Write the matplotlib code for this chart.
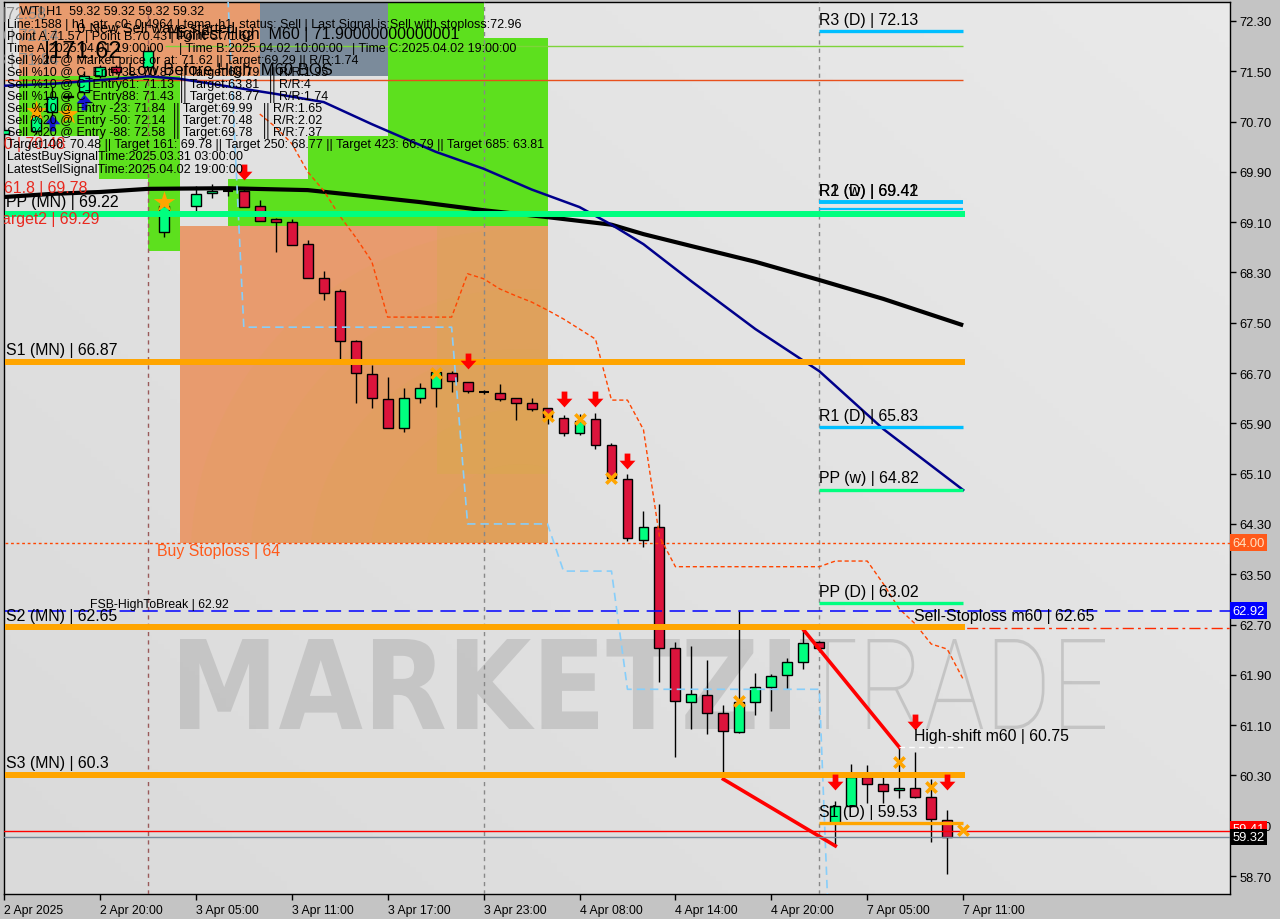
import numpy as np
import matplotlib
matplotlib.use("Agg")
import matplotlib.pyplot as plt
import matplotlib.transforms as mtransforms
from matplotlib.patches import Rectangle, Ellipse, PathPatch
from matplotlib.path import Path
from matplotlib.textpath import TextPath
from matplotlib.font_manager import FontProperties

plt.rcParams['font.family'] = ['Liberation Sans', 'DejaVu Sans']

nan = np.nan

# ---- H1 candles, one slot per bar on the chart grid (nan = no visible bar) ----
opens = [70.51, nan, 70.55, 70.85, 71.09, 71.17, 71.43, 71.57, nan, 71.57,
         68.94, nan, 69.36, 69.56, 69.60, 69.60, 69.35, 69.15, 69.11, 68.75,
         68.21, 68.00, 67.21, 66.69, 66.29, 65.82, 66.30, 66.47, 66.70, 66.55,
         66.40, 66.38, 66.30, 66.22, 66.14, 65.98, 65.74, 65.97, 65.56, 65.02,
         64.05, 64.25, 62.32, 61.46, 61.58, 61.30, 60.99, 61.46, 61.70, 61.89,
         62.10, 62.42, 59.55, 59.82, 60.27, 60.17, 60.07, 60.10, 59.95, 59.59]
highs = [70.62, nan, 70.88, 71.25, 71.14, 71.50, 71.60, 71.60, nan, 71.90,
         69.47, nan, 69.68, 69.71, 69.62, 69.64, 69.46, 69.16, 69.15, 68.81,
         68.33, 68.04, 67.22, 66.83, 66.63, 66.46, 66.54, 66.74, 66.74, 66.56,
         66.43, 66.53, 66.31, 66.30, 66.15, 66.03, 66.05, 66.06, 65.59, 65.09,
         64.50, 64.62, 62.43, 62.36, 62.13, 61.42, 62.91, 61.93, 61.91, 62.17,
         62.62, 62.44, 59.90, 60.48, 60.46, 60.35, 60.75, 60.67, 60.24, 59.75]
lows = [70.45, nan, 70.50, 70.74, 71.05, 71.12, 71.40, 71.45, nan, 71.52,
        68.86, nan, 69.26, 69.48, 69.52, 69.34, 69.12, 68.63, 68.74, 68.21,
        67.87, 66.92, 66.23, 66.14, 65.82, 65.76, 66.23, 66.16, 66.40, 66.38,
        66.37, 66.25, 65.95, 66.09, 65.89, 65.70, 65.71, 65.50, 65.03, 64.03,
        63.93, 61.79, 60.59, 61.04, 60.96, 60.24, 60.98, 61.26, 61.33, 61.68,
        61.99, 62.30, 59.18, 59.80, 59.86, 59.86, 59.94, 59.94, 59.24, 58.73]
closes = [70.56, nan, 70.79, 71.09, 71.11, 71.42, 71.57, 71.49, nan, 71.82,
          69.36, nan, 69.55, 69.60, 69.60, 69.34, 69.12, 69.10, 68.74, 68.21,
          67.98, 67.21, 66.70, 66.30, 65.82, 66.30, 66.46, 66.71, 66.57, 66.41,
          66.40, 66.28, 66.22, 66.13, 66.00, 65.74, 65.94, 65.55, 65.03, 64.07,
          64.25, 62.32, 61.48, 61.60, 61.30, 61.01, 61.46, 61.70, 61.88, 62.11,
          62.41, 62.32, 59.82, 60.27, 60.16, 60.06, 60.10, 59.95, 59.61, 59.32]

# moving averages (slot, value)
ma_black_slots = [0, 3, 6, 9, 14, 19, 22, 26, 30, 34, 38, 40, 43, 47, 51, 55, 60]
ma_black_vals = [69.50, 69.55, 69.58, 69.63, 69.64, 69.61, 69.53, 69.42, 69.29,
                 69.18, 69.06, 68.91, 68.72, 68.47, 68.18, 67.88, 67.46]
ma_navy_slots = [0, 3, 6, 9, 11, 14, 17, 20, 23, 27, 30, 33, 36, 38, 40, 43, 47, 51, 55, 60]
ma_navy_vals = [71.27, 71.30, 71.36, 71.42, 71.38, 71.26, 71.14, 71.01, 70.66, 70.22,
                69.95, 69.62, 69.34, 69.06, 68.75, 68.16, 67.40, 66.73, 65.81, 64.84]

# trailing stop (orange-red dotted) and light-blue stop line
trail_slots = list(range(16, 61))
trail_vals = [70.82, 70.61, 70.35, 69.90, 69.60, 69.20, 68.86, 68.48, 67.59, 67.59,
              67.59, 67.59, 67.59, 68.28, 68.20, 68.04, 67.93, 67.83, 67.70, 67.56,
              67.40, 67.24, 66.27, 66.27, 65.80, 64.10, 63.62, 63.62, 63.62, 63.62,
              63.62, 63.62, 63.62, 63.62, 63.62, 63.62, 63.71, 63.71, 63.71, 63.35,
              62.95, 62.71, 62.39, 62.31, 61.83]
lb_slots = list(range(14, 53))
lb_vals = [72.70] + [67.43] * 14 + [64.30] * 6 + [63.55] * 4 + [61.67] * 13 + [55.20]

# monthly pivots (full width) and daily / weekly pivots (last day)
mn_names = ["PP (MN) | 69.22", "S1 (MN) | 66.87", "S2 (MN) | 62.65", "S3 (MN) | 60.3"]
mn_vals = [69.23, 66.88, 62.66, 60.31]
d_names = ["R3 (D) | 72.13", "R1 (D) | 65.83", "PP (w) | 64.82", "PP (D) | 63.02", "S1 (D) | 59.53"]
d_vals = [72.14, 65.84, 64.84, 63.04, 59.54]
d_colors = ['#00bfff', '#00bfff', '#00ff7f', '#00ff7f', '#ffa500']
r2_vals = [69.42, 69.31]

# zones: (left slot, right slot, low, high)
zones = [(0.94, 16.0, 71.43, 72.9), (16.0, 24.0, 71.43, 72.9),
         (0.94, 11.0, 70.47, 71.43), (5.94, 11.0, 69.79, 70.47), (9.0, 11.0, 68.64, 69.79),
         (24.0, 30.0, 69.04, 72.9), (30.0, 34.0, 69.04, 72.03), (19.0, 24.0, 69.04, 70.47),
         (14.0, 19.0, 69.04, 69.79), (11.0, 14.0, 68.64, 69.04), (11.0, 34.0, 64.00, 69.04)]
zone_colors = ['#e89b6e', '#7b8b9b', '#5de01e', '#5de01e', '#5de01e', '#5de01e', '#5de01e',
               '#5de01e', '#5de01e', '#7b8b9b', '#e89b6e']

# signals
sell_arrow_slots = [15, 29, 35, 37, 39, 52, 57, 59]
sell_arrow_vals = [69.90, 66.89, 66.29, 66.29, 65.30, 60.20, 61.15, 60.20]
buy_arrow_slots = [3, 5]
buy_arrow_vals = [70.68, 71.01]
cross_slots = [27, 34, 36, 38, 46, 56, 58, 60]
cross_vals = [66.70, 66.02, 65.97, 65.03, 61.48, 60.51, 60.12, 59.43]
star_slots = [2, 4, 10]
star_vals = [70.87, 70.82, 69.42]

tick_slots = [0, 6, 12, 18, 24, 30, 36, 42, 48, 54, 60]
tick_labels = ["2 Apr 2025", "2 Apr 20:00", "3 Apr 05:00", "3 Apr 11:00", "3 Apr 17:00",
               "3 Apr 23:00", "4 Apr 08:00", "4 Apr 14:00", "4 Apr 20:00", "7 Apr 05:00",
               "7 Apr 11:00"]
price_ticks = [58.70, 59.50, 60.30, 61.10, 61.90, 62.70, 63.50, 64.30, 65.10, 65.90,
               66.70, 67.50, 68.30, 69.10, 69.90, 70.70, 71.50, 72.30]

W, H = 1280, 920
fig = plt.figure(figsize=(12.8, 9.2), dpi=100)
fig.patch.set_facecolor('#c4c4c4')
ax = fig.add_axes([4 / W, 25 / H, 1226 / W, 892 / H])
XLO, XHI = 0.0625, 76.69
YLO, YHI = 58.414, 72.602


def ptext(x, y, s, **kw):
    kw.setdefault('va', 'center')
    kw.setdefault('ha', 'left')
    kw.setdefault('zorder', 9)
    ax.text(x / W, 1 - y / H, s, transform=fig.transFigure, clip_on=True, **kw)


def lab(s, slot, level, dy, **kw):
    kw.setdefault('fontsize', 11.4)
    kw.setdefault('color', 'black')
    ax.annotate(s, (slot, level), xytext=(0, dy), textcoords='offset pixels',
                va='center', ha='left', zorder=9, annotation_clip=False, **kw)


def fit_text(s, box, fp, color, alpha):
    tp = TextPath((0, 0), s, size=100, prop=fp)
    bb = tp.get_extents()
    x0, y0, x1, y1 = box
    tr = (mtransforms.Affine2D().translate(-bb.x0, -bb.y0)
          .scale((x1 - x0) / bb.width, (y1 - y0) / bb.height)
          .translate(x0, H - y1))
    ax.add_patch(PathPatch(tp, transform=tr, fc=color, ec='none', alpha=alpha, zorder=2))


# background gradient
g = np.linspace(0, 1, 200)
GX, GY = np.meshgrid(g, g)
t = 0.55 * GX + 0.45 * GY
img = 0.855 + (0.915 - 0.855) * t
ax.imshow(np.dstack([img, img, img]), extent=[XLO, XHI, YLO, YHI], origin='lower',
          aspect='auto', zorder=0)

# zones
zone_patches = []
for (x0, x1, lo, hi), col in zip(zones, zone_colors):
    r = Rectangle((x0, lo), x1 - x0, hi - lo, fc=col, ec='none', zorder=1)
    ax.add_patch(r)
    zone_patches.append(r)
ax.add_patch(Rectangle((27.06, 65.10), 34.0 - 27.06, 69.04 - 65.10, fc='#d6a850',
                       ec='none', alpha=0.35, zorder=1.2))
main_zone = zone_patches[-1]
for rad in [330, 270, 210, 150, 95]:
    e = Ellipse((32.3, 63.74), 2 * rad / 16, 2 * rad / 62.87, fc='#d8b040', ec='none',
                alpha=0.09, zorder=1.5)
    ax.add_patch(e)
    e.set_clip_path(main_zone)

# watermark
fit_text("MARKETZI", (180, 640, 790, 730), FontProperties(family='DejaVu Sans', weight='bold'),
         '#a8a8a8', 0.45)
fit_text("TRADE", (800, 640, 1105, 730), FontProperties(family='Roboto', weight='light'),
         '#a8a8a8', 0.5)

# separators
for s, col in zip([9, 30, 51], ['#9a5a5a', '#888888', '#888888']):
    ax.axvline(s, color=col, lw=1, ls=(0, (3, 3)), zorder=3)

# thin lines in the header area
ax.hlines(71.90, 10.1, 60.0, color='#7ed43a', lw=1, zorder=3)
ax.hlines(71.36, XLO, 60.0, color='#e8501c', lw=1, zorder=3)

# candles
o, h, l, c = map(np.array, (opens, highs, lows, closes))
slots = np.arange(len(o))
ok = ~np.isnan(o)
ax.vlines(slots[ok], l[ok], h[ok], color='black', lw=1, zorder=4)
bull = ok & (c > o)
bear = ok & (c < o)
doji = ok & (c == o)
ax.bar(slots[bull], c[bull] - o[bull], bottom=o[bull], width=0.62, color='#00ff7f',
       edgecolor='black', lw=1, zorder=4.2)
ax.bar(slots[bear], o[bear] - c[bear], bottom=c[bear], width=0.62, color='#dc143c',
       edgecolor='black', lw=1, zorder=4.2)
ax.hlines(o[doji], slots[doji] - 0.31, slots[doji] + 0.31, color='black', lw=1.5, zorder=4.2)

# moving averages
ax.plot(ma_black_slots, ma_black_vals, color='black', lw=3, zorder=5, solid_capstyle='butt')
ax.plot(ma_navy_slots, ma_navy_vals, color='#00008b', lw=1.8, zorder=5)

# stop lines
ax.plot(trail_slots, trail_vals, color='#ff4500', lw=1, ls=(0, (3, 2)), zorder=5)
ax.plot(lb_slots, lb_vals, color='#87cefa', lw=1.2, ls=(0, (5, 3)), zorder=5)

# zigzag
ax.plot([45, 52], [l[45], l[52]], color='#ff0000', lw=2.6, zorder=5.5)
ax.plot([50, 56], [h[50], h[56]], color='#ff0000', lw=2.6, zorder=5.5)
ax.hlines(h[56], 56, 60, color='white', lw=1, ls=(0, (4, 3)), zorder=5.5)

# level lines
ax.hlines(64.00, XLO, XHI, color='#ff4500', lw=1, ls=(0, (2, 2)), zorder=5.6)
ax.hlines(62.92, XLO, XHI, color='#0000ff', lw=1.1, ls=(0, (10, 5)), zorder=5.6)
ax.hlines(62.65, 56.06, XHI, color='#ff2a00', lw=1, ls=(0, (8, 3, 2, 3)), zorder=5.6)
ax.axhline(59.41, color='#ff0000', lw=1, zorder=5.6)
ax.axhline(59.32, color='#778899', lw=1, zorder=5.6)
for v, col in zip(mn_vals, ['#00ff7f', '#ffa500', '#ffa500', '#ffa500']):
    ax.hlines(v, XLO, 60.1, color=col, lw=4.3, zorder=6)
for v, col in zip(d_vals, d_colors):
    ax.hlines(v, 51.0, 60.0, color=col, lw=2.4, zorder=6)
ax.hlines(r2_vals[0], 51.0, 60.0, color='#00bfff', lw=2.8, zorder=6)
ax.hlines(r2_vals[1], 51.0, 60.0, color='#00bfff', lw=1.6, zorder=6)

# markers
arrow = Path([(-0.18, 0.5), (0.18, 0.5), (0.18, 0.05), (0.5, 0.05), (0, -0.5),
              (-0.5, 0.05), (-0.18, 0.05), (-0.18, 0.5)])
arrow_up = Path([(x, -y) for x, y in arrow.vertices])
ax.scatter(sell_arrow_slots, sell_arrow_vals, marker=arrow, s=130, color='#ff0000',
           linewidths=0, zorder=7)
ax.scatter(buy_arrow_slots, buy_arrow_vals, marker=arrow_up, s=130, color='#1414d0',
           linewidths=0, zorder=7)
ax.scatter(cross_slots, cross_vals, marker='x', s=55, color='#ffa500', linewidths=2.6, zorder=7)
ax.scatter(star_slots, star_vals, marker='*', s=260, color='#ffa500', linewidths=0, zorder=7)

# labels on levels
for name, v in zip(mn_names, mn_vals):
    lab(name, 0.125, v, 12)
for name, v in zip(d_names, d_vals):
    lab(name, 51.0, v, 12)
lab("R2 (D) | 69.41", 51.0, r2_vals[0], 12)
lab("R1 (w) | 69.42", 51.0, r2_vals[0], 12)
lab("Buy Stoploss | 64", 9.6, 64.00, -8, color='#ff5a1a')
lab("FSB-HighToBreak | 62.92", 5.4, 62.92, 7, fontsize=8.8)
lab("Sell-Stoploss m60 | 62.65", 56.9, 62.65, 12)
lab("High-shift m60 | 60.75", 56.9, h[56], 12)

# header texts
ptext(3, 14, "|72.58", fontsize=11.5, color='#8c8c8c')
ptext(-12, 37, "50 | 72.14", fontsize=11.5, color='#8c8c8c')
ptext(-12, 60, "23 | 71.84", fontsize=11.5, color='#8c8c8c')
ptext(-14, 145, "100 | 70.48", fontsize=11.4, color='#e8281e')
ptext(4, 188, "61.8 | 69.78", fontsize=11.4, color='#e8281e')
ptext(-6, 220, "Target2 | 69.29", fontsize=11.4, color='#e8281e')
ptext(77, 29, "0 New Sell wave started", fontsize=10.5, color='black')
ptext(168, 35, "Highest High  M60 | 71.90000000000001", fontsize=11.5, color='black')
ptext(44, 52, "|171.62", fontsize=17, color='black')
ptext(128, 70, "Low Before High  M60 BOS", fontsize=12, color='black')

fs = 9.0
ptext(20, 12, "WTI,H1  59.32 59.32 59.32 59.32", fontsize=fs)
ptext(7, 25, "Line:1588 | h1_atr_c0: 0.4964 | tema_h1  status: Sell | Last Signal is:Sell with stoploss:72.96", fontsize=fs)
ptext(7, 37, "Point A:71.57 | Point B:70.43 | Point C:71.62", fontsize=fs)
ptext(7, 49, "Time A:2025.04.01 19:00:00", fontsize=fs)
ptext(179, 49, "| Time B:2025.04.02 10:00:00", fontsize=fs)
ptext(352, 49, "| Time C:2025.04.02 19:00:00", fontsize=fs)
ptext(7, 61, "Sell %20 @ Market price or at: 71.62 || Target:69.29 || R/R:1.74", fontsize=fs)
rows = [("Sell %10 @ C_Entry38: 70.87", "|| Target:68.79", "|| R/R:1.95", 180, 269),
        ("Sell %10 @ C_Entry61: 71.13", "|| Target:63.81", "|| R/R:4", 180, 269),
        ("Sell %10 @ C_Entry88: 71.43", "|| Target:68.77", "|| R/R:1.74", 180, 269),
        ("Sell %10 @ Entry -23: 71.84", "|| Target:69.99", "|| R/R:1.65", 173, 263),
        ("Sell %20 @ Entry -50: 72.14", "|| Target:70.48", "|| R/R:2.02", 173, 263),
        ("Sell %20 @ Entry -88: 72.58", "|| Target:69.78", "|| R/R:7.37", 173, 263)]
for k, (a, b, cc, xb, xc) in enumerate(rows):
    yy = 73 + 12 * k
    ptext(7, yy, a, fontsize=fs)
    ptext(xb, yy, b, fontsize=fs)
    ptext(xc, yy, cc, fontsize=fs)
ptext(7, 145, "Target100: 70.48 || Target 161: 69.78 || Target 250: 68.77 || Target 423: 66.79 || Target 685: 63.81", fontsize=fs)
ptext(7, 157, "LatestBuySignalTime:2025.03.31 03:00:00", fontsize=fs)
ptext(7, 170, "LatestSellSignalTime:2025.04.02 19:00:00", fontsize=fs)

# price tags on the right
btr = mtransforms.blended_transform_factory(ax.transAxes, ax.transData)
for v, txt, fc, tc in [(64.00, "64.00", '#ff5a1a', '#ffe0c0'), (62.92, "62.92", '#0000ff', 'white'),
                       (59.45, "59.41", '#ff0000', 'white'), (59.32, "59.32", 'black', 'white')]:
    ax.text(1.0018, v, txt, transform=btr, va='center', ha='left', fontsize=9.3, color=tc,
            clip_on=False, zorder=10,
            bbox=dict(boxstyle='square,pad=0.18', fc=fc, ec='none'))

# axes
ax.set_xlim(XLO, XHI)
ax.set_ylim(YLO, YHI)
ax.set_yticks(price_ticks)
ax.set_yticklabels([f"{p:.2f}" for p in price_ticks])
ax.yaxis.tick_right()
ax.tick_params(axis='y', direction='out', length=4, pad=3, labelsize=9.3, width=1)
ax.set_xticks(tick_slots)
ax.set_xticklabels(tick_labels, ha='left')
ax.tick_params(axis='x', direction='out', length=4, pad=3, labelsize=8.8, width=1)
for sp in ax.spines.values():
    sp.set_color('black')
    sp.set_linewidth(1)

fig.savefig("out.png", dpi=100)
